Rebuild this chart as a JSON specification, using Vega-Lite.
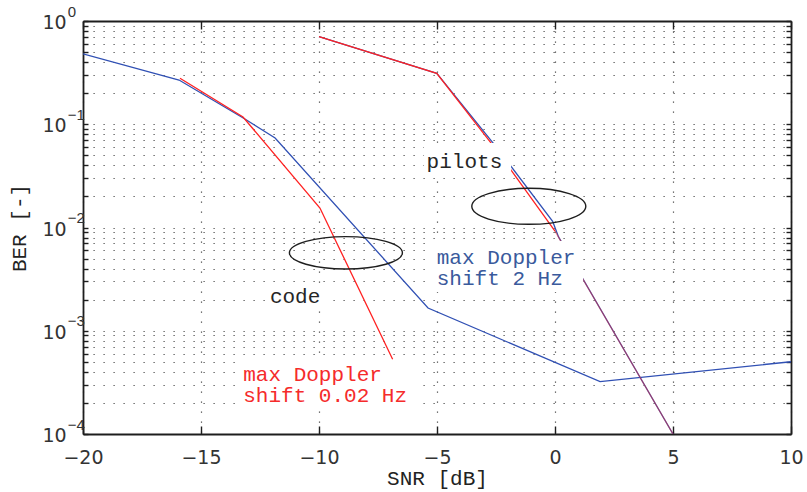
{
  "$schema": "https://vega.github.io/schema/vega-lite/v6.json",
  "width": 708,
  "height": 413,
  "autosize": {"type": "none"},
  "padding": {"left": 83, "top": 21, "right": 16, "bottom": 58},
  "background": "white",
  "config": {
    "view": {"stroke": null},
    "axis": {
      "domainColor": "#1e1e1e",
      "domainWidth": 1.8,
      "tickColor": "#1e1e1e",
      "tickWidth": 1.4,
      "gridColor": "#4a4a4a",
      "gridDash": [1.2, 8.8],
      "gridWidth": 1.2,
      "labelFont": "DejaVu Sans",
      "labelFontSize": 19,
      "labelColor": "#333333",
      "titleFont": "Liberation Mono",
      "titleFontSize": 21,
      "titleFontWeight": "normal",
      "titleColor": "#222222"
    }
  },
  "datasets": {
    "curves": [
      {"curve": "code", "doppler": "2 Hz", "snr": -20, "ber": 0.48},
      {"curve": "code", "doppler": "2 Hz", "snr": -15.93, "ber": 0.268},
      {"curve": "code", "doppler": "2 Hz", "snr": -13.14, "ber": 0.1124},
      {"curve": "code", "doppler": "2 Hz", "snr": -11.86, "ber": 0.0736},
      {"curve": "code", "doppler": "2 Hz", "snr": -5.38, "ber": 0.00166},
      {"curve": "code", "doppler": "2 Hz", "snr": 1.91, "ber": 0.000321},
      {"curve": "code", "doppler": "2 Hz", "snr": 10, "ber": 0.000501},
      {"curve": "pilots", "doppler": "2 Hz", "snr": -10, "ber": 0.705},
      {"curve": "pilots", "doppler": "2 Hz", "snr": -5.01, "ber": 0.311},
      {"curve": "pilots", "doppler": "2 Hz", "snr": -2.5, "ber": 0.0608},
      {"curve": "pilots", "doppler": "2 Hz", "snr": -0.1, "ber": 0.0115},
      {"curve": "pilots", "doppler": "2 Hz", "snr": 0.15, "ber": 0.0081},
      {"curve": "pilots", "doppler": "2 Hz", "snr": 5, "ber": 0.0001},
      {"curve": "code", "doppler": "0.02 Hz", "snr": -15.89, "ber": 0.279},
      {"curve": "code", "doppler": "0.02 Hz", "snr": -13.22, "ber": 0.1175},
      {"curve": "code", "doppler": "0.02 Hz", "snr": -9.96, "ber": 0.01545},
      {"curve": "code", "doppler": "0.02 Hz", "snr": -6.88, "ber": 0.000529},
      {"curve": "pilots", "doppler": "0.02 Hz", "snr": -10, "ber": 0.705},
      {"curve": "pilots", "doppler": "0.02 Hz", "snr": -5.01, "ber": 0.311},
      {"curve": "pilots", "doppler": "0.02 Hz", "snr": -2.5, "ber": 0.0572},
      {"curve": "pilots", "doppler": "0.02 Hz", "snr": 0, "ber": 0.00923},
      {"curve": "pilots tail", "doppler": "0.02 Hz", "snr": 0, "ber": 0.00923},
      {"curve": "pilots tail", "doppler": "0.02 Hz", "snr": 5, "ber": 0.0001}
    ],
    "notes": [
      {"note": "pilots", "kind": "plain", "snr": -5.44, "ber": 0.0375, "x0": -5.55, "x1": -1.86, "y0": 0.0658, "y1": 0.033},
      {"note": "code", "kind": "plain", "snr": -12.08, "ber": 0.00187, "x0": -12.25, "x1": -9.7, "y0": 0.00284, "y1": 0.00159},
      {"note": "max Doppler\nshift 2 Hz", "kind": "2 Hz", "snr": -5.01, "ber": 0.0044, "x0": -5.17, "x1": 1.19, "y0": 0.0074, "y1": 0.00237},
      {"note": "max Doppler\nshift 0.02 Hz", "kind": "0.02 Hz", "snr": -13.21, "ber": 0.000326, "x0": -13.35, "x1": -5.8, "y0": 0.000509, "y1": 0.000187}
    ],
    "rings": [
      {"ring": "code", "snr": -8.86, "ber": 0.00569},
      {"ring": "pilots", "snr": -1.11, "ber": 0.01604}
    ],
    "decades": [
      {"snr": -20, "ber": 1, "exp": "0"},
      {"snr": -20, "ber": 0.1, "exp": "−1"},
      {"snr": -20, "ber": 0.01, "exp": "−2"},
      {"snr": -20, "ber": 0.001, "exp": "−3"},
      {"snr": -20, "ber": 0.0001, "exp": "−4"}
    ]
  },
  "resolve": {"axis": {"x": "independent", "y": "independent"}},
  "layer": [
    {
      "data": {"name": "curves"},
      "transform": [{"filter": "datum.doppler === '2 Hz'"}],
      "mark": {"type": "line", "color": "#3050b4", "strokeWidth": 1.3, "clip": true},
      "encoding": {
        "x": {
          "field": "snr", "type": "quantitative",
          "scale": {"domain": [-20, 10], "nice": false, "zero": false},
          "axis": {
            "orient": "bottom", "values": [-20, -15, -10, -5, 0, 5, 10],
            "tickSize": -8, "labelPadding": 22.6, "labelFlush": false, "labelOverlap": false,
            "grid": true, "title": "SNR [dB]", "titlePadding": 0
          }
        },
        "y": {
          "field": "ber", "type": "quantitative",
          "scale": {"type": "log", "domain": [0.0001, 1], "nice": false},
          "axis": {
            "orient": "left",
            "values": [0.0001, 0.0002, 0.0003, 0.0004, 0.0005, 0.0006, 0.0007, 0.0008, 0.0009,
                       0.001, 0.002, 0.003, 0.004, 0.005, 0.006, 0.007, 0.008, 0.009,
                       0.01, 0.02, 0.03, 0.04, 0.05, 0.06, 0.07, 0.08, 0.09,
                       0.1, 0.2, 0.3, 0.4, 0.5, 0.6, 0.7, 0.8, 0.9, 1],
            "labels": false, "tickSize": -5, "grid": true,
            "title": "BER [-]", "titlePadding": 53,
            "encode": {"ticks": {"x2": {"value": {"expr": "abs(log(datum.value)/LN10 - round(log(datum.value)/LN10)) < 0.001 ? 9 : 5"}}}}
          }
        },
        "detail": {"field": "curve"}
      }
    },
    {
      "data": {"name": "curves"},
      "transform": [{"filter": "datum.doppler === '0.02 Hz' && datum.curve !== 'pilots tail'"}],
      "mark": {"type": "line", "color": "#ff2222", "strokeWidth": 1.3, "clip": true},
      "encoding": {
        "x": {"field": "snr", "type": "quantitative", "axis": null},
        "y": {"field": "ber", "type": "quantitative", "axis": null},
        "detail": {"field": "curve"}
      }
    },
    {
      "data": {"name": "curves"},
      "transform": [{"filter": "datum.curve === 'pilots tail'"}],
      "mark": {"type": "line", "color": "#ff2222", "strokeWidth": 1.3, "opacity": 0.45, "clip": true},
      "encoding": {
        "x": {"field": "snr", "type": "quantitative", "axis": null},
        "y": {"field": "ber", "type": "quantitative", "axis": null}
      }
    },
    {
      "data": {"name": "notes"},
      "mark": {"type": "rect", "color": "white"},
      "encoding": {
        "x": {"field": "x0", "type": "quantitative", "axis": null},
        "x2": {"field": "x1"},
        "y": {"field": "y0", "type": "quantitative", "axis": null},
        "y2": {"field": "y1"}
      }
    },
    {
      "data": {"name": "notes"},
      "mark": {"type": "text", "align": "left", "baseline": "alphabetic", "font": "Liberation Mono", "fontSize": 21, "lineHeight": 21, "lineBreak": "\n"},
      "encoding": {
        "x": {"field": "snr", "type": "quantitative", "axis": null},
        "y": {"field": "ber", "type": "quantitative", "axis": null},
        "text": {"field": "note"},
        "color": {
          "field": "kind", "type": "nominal", "legend": null,
          "scale": {"domain": ["plain", "2 Hz", "0.02 Hz"], "range": ["#262626", "#3a5a9c", "#f52b2b"]}
        }
      }
    },
    {
      "data": {"name": "rings"},
      "transform": [{"filter": "datum.ring === 'code'"}],
      "mark": {
        "type": "point", "filled": false, "stroke": "#1e1e1e", "strokeWidth": 1.4, "opacity": 1, "size": 12769,
        "shape": "M-1,0C-1,-0.158,-0.552,-0.286,0,-0.286C0.552,-0.286,1,-0.158,1,0C1,0.158,0.552,0.286,0,0.286C-0.552,0.286,-1,0.158,-1,0Z"
      },
      "encoding": {
        "x": {"field": "snr", "type": "quantitative", "axis": null},
        "y": {"field": "ber", "type": "quantitative", "axis": null}
      }
    },
    {
      "data": {"name": "rings"},
      "transform": [{"filter": "datum.ring === 'pilots'"}],
      "mark": {
        "type": "point", "filled": false, "stroke": "#1e1e1e", "strokeWidth": 1.4, "opacity": 1, "size": 12996,
        "shape": "M-1,0C-1,-0.175,-0.552,-0.316,0,-0.316C0.552,-0.316,1,-0.175,1,0C1,0.175,0.552,0.316,0,0.316C-0.552,0.316,-1,0.175,-1,0Z"
      },
      "encoding": {
        "x": {"field": "snr", "type": "quantitative", "axis": null},
        "y": {"field": "ber", "type": "quantitative", "axis": null}
      }
    },
    {
      "data": {"name": "decades"},
      "mark": {"type": "text", "text": "10", "align": "right", "baseline": "alphabetic", "dx": -16.3, "dy": 8, "font": "DejaVu Sans", "fontSize": 19, "color": "#333333"},
      "encoding": {
        "x": {
          "field": "snr", "type": "quantitative",
          "axis": {"orient": "top", "values": [-20, -15, -10, -5, 0, 5, 10], "tickSize": -8, "labels": false, "grid": false, "title": null}
        },
        "y": {
          "field": "ber", "type": "quantitative",
          "axis": {
            "orient": "right",
            "values": [0.0001, 0.0002, 0.0003, 0.0004, 0.0005, 0.0006, 0.0007, 0.0008, 0.0009,
                       0.001, 0.002, 0.003, 0.004, 0.005, 0.006, 0.007, 0.008, 0.009,
                       0.01, 0.02, 0.03, 0.04, 0.05, 0.06, 0.07, 0.08, 0.09,
                       0.1, 0.2, 0.3, 0.4, 0.5, 0.6, 0.7, 0.8, 0.9, 1],
            "labels": false, "tickSize": -5, "grid": false, "title": null,
            "encode": {"ticks": {"x2": {"value": {"expr": "abs(log(datum.value)/LN10 - round(log(datum.value)/LN10)) < 0.001 ? -9 : -5"}}}}
          }
        }
      }
    },
    {
      "data": {"name": "decades"},
      "mark": {"type": "text", "align": "left", "baseline": "alphabetic", "dx": -15.3, "dy": -4.5, "font": "Liberation Sans", "fontSize": 15, "color": "#333333"},
      "encoding": {
        "x": {"field": "snr", "type": "quantitative", "axis": null},
        "y": {"field": "ber", "type": "quantitative", "axis": null},
        "text": {"field": "exp"}
      }
    }
  ]
}
